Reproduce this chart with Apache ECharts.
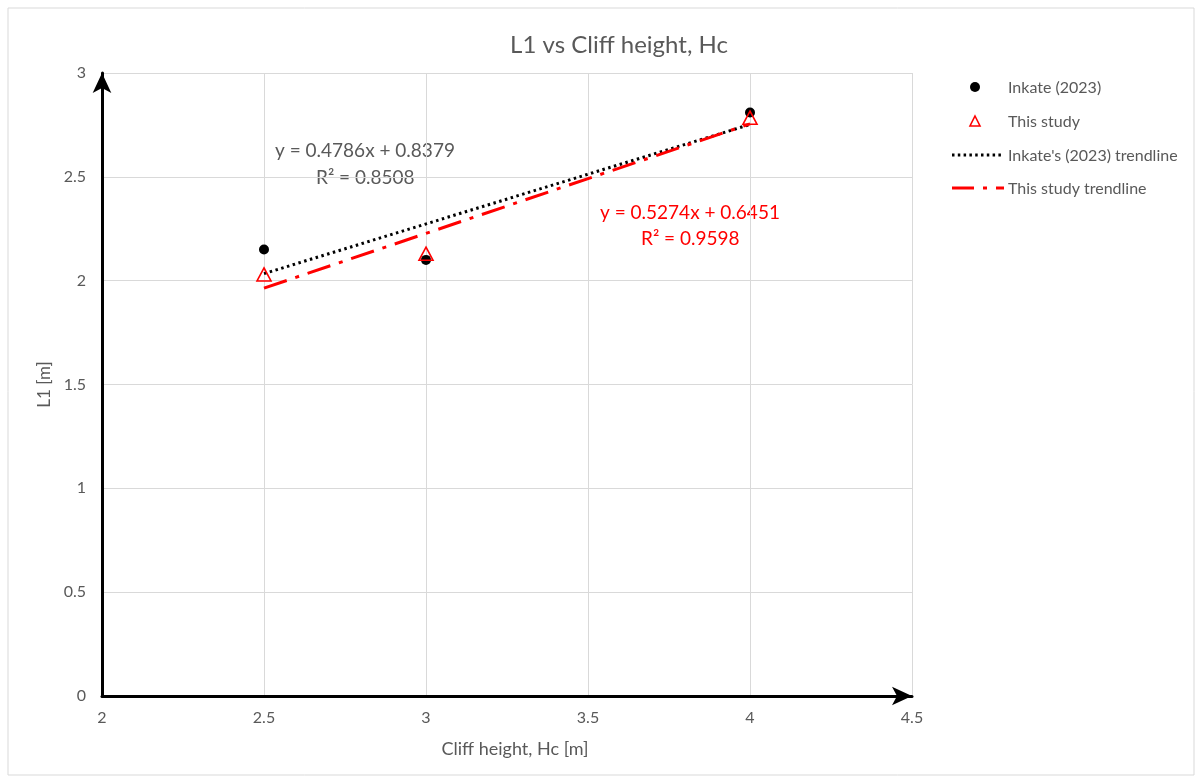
<!DOCTYPE html>
<html><head><meta charset="utf-8">
<script src="https://cdn.jsdelivr.net/npm/echarts@6/dist/echarts.min.js"></script>
<style>html,body{margin:0;padding:0;background:#fff}#c{width:1200px;height:780px}</style>
</head><body><div id="c"></div>
<script>
const xTicks = [2, 2.5, 3, 3.5, 4, 4.5];
const yTicks = [0, 0.5, 1, 1.5, 2, 2.5, 3];
const inkateX = [2.5, 3, 4];
const inkateY = [2.15, 2.10, 2.81];
const studyX = [2.5, 3, 4];
const studyY = [2.03, 2.13, 2.785];
const inkateTrendX = [2.5, 4];
const inkateTrendY = [2.034, 2.752];
const studyTrendX = [2.5, 4];
const studyTrendY = [1.964, 2.755];
const inkateEq = ['y = 0.4786x + 0.8379', 'R² = 0.8508'];
const studyEq = ['y = 0.5274x + 0.6451', 'R² = 0.9598'];
const legendNames = ['Inkate (2023)', 'This study', "Inkate's (2023) trendline", 'This study trendline'];

const FONT = 'Lato, "Open Sans", sans-serif';
const GREY = '#595959';
const zip = (a, b) => a.map((v, i) => [v, b[i]]);
const legendRows = [87, 121, 155, 188];
const legendText = legendNames.map((n, i) => ({
  type: 'text', left: 1008, top: legendRows[i] - 7,
  style: { text: n, fontFamily: FONT, fontSize: 16, fill: GREY }
}));

const chart = echarts.init(document.getElementById('c'));
chart.setOption({
  animation: false,
  backgroundColor: '#fff',
  title: {
    text: 'L1 vs Cliff height, Hc', left: 614, top: 28, textAlign: 'center',
    textStyle: { fontFamily: FONT, fontSize: 24, fontWeight: 'normal', color: GREY }
  },
  grid: { left: 102, right: 288, top: 73, bottom: 84 },
  xAxis: {
    type: 'value', min: xTicks[0], max: xTicks[xTicks.length - 1], interval: 0.5,
    name: 'Cliff height, Hc [m]', nameLocation: 'middle', nameGap: 44,
    nameTextStyle: { fontFamily: FONT, fontSize: 18, color: GREY, padding: [0, 0, 0, 16] },
    axisLine: { show: true, symbol: ['none', 'arrow'], symbolSize: [14, 20], lineStyle: { color: '#000', width: 3 } },
    axisTick: { show: false },
    axisLabel: { fontFamily: FONT, fontSize: 16, color: GREY, margin: 14 },
    splitLine: { show: true, lineStyle: { color: '#d9d9d9', width: 1 } }
  },
  yAxis: {
    type: 'value', min: yTicks[0], max: yTicks[yTicks.length - 1], interval: 0.5,
    name: 'L1 [m]', nameLocation: 'middle', nameGap: 49, nameRotate: 90,
    nameTextStyle: { fontFamily: FONT, fontSize: 17, color: GREY },
    axisLine: { show: true, symbol: ['none', 'arrow'], symbolSize: [14, 20], lineStyle: { color: '#000', width: 3 } },
    axisTick: { show: false },
    axisLabel: { fontFamily: FONT, fontSize: 16, color: GREY, margin: 16 },
    splitLine: { show: true, lineStyle: { color: '#d9d9d9', width: 1 } }
  },
  series: [
    {
      name: legendNames[0], type: 'scatter', data: zip(inkateX, inkateY),
      symbol: 'circle', symbolSize: 10, itemStyle: { color: '#000', opacity: 1 }, z: 3
    },
    {
      name: legendNames[1], type: 'scatter', data: zip(studyX, studyY),
      symbol: 'triangle', symbolSize: [14, 13],
      itemStyle: { color: 'rgba(255,255,255,0)', borderColor: '#ff0000', borderWidth: 1.6, opacity: 1 }, z: 4
    },
    {
      name: legendNames[2], type: 'line', data: zip(inkateTrendX, inkateTrendY),
      symbol: 'none', lineStyle: { color: '#000', width: 3, type: [2.5, 3.5] }, z: 2
    },
    {
      name: legendNames[3], type: 'line', data: zip(studyTrendX, studyTrendY),
      symbol: 'none', lineStyle: { color: '#ff0000', width: 3, type: [24, 9, 4, 9] }, z: 2
    }
  ],
  graphic: [
    { type: 'rect', shape: { x: 8, y: 8, width: 1186, height: 767 }, style: { fill: 'none', stroke: '#d9d9d9', lineWidth: 1 }, silent: true },
    { type: 'text', left: 275, top: 141, style: { text: inkateEq[0], fontFamily: FONT, fontSize: 19, fill: GREY } },
    { type: 'text', left: 316, top: 168, style: { text: inkateEq[1], fontFamily: FONT, fontSize: 19, fill: GREY } },
    { type: 'text', left: 600, top: 203, style: { text: studyEq[0], fontFamily: FONT, fontSize: 19, fill: '#ff0000' } },
    { type: 'text', left: 641, top: 229, style: { text: studyEq[1], fontFamily: FONT, fontSize: 19, fill: '#ff0000' } },
    { type: 'circle', shape: { cx: 975, cy: legendRows[0], r: 5 }, style: { fill: '#000' } },
    { type: 'polygon', shape: { points: [[975, legendRows[1] - 5], [980, legendRows[1] + 5], [970, legendRows[1] + 5]] }, style: { fill: 'none', stroke: '#ff0000', lineWidth: 1.6 } },
    { type: 'line', shape: { x1: 952, y1: legendRows[2], x2: 1004, y2: legendRows[2] }, style: { stroke: '#000', lineWidth: 3, lineDash: [2.5, 3.3] } },
    { type: 'line', shape: { x1: 952, y1: legendRows[3], x2: 1004, y2: legendRows[3] }, style: { stroke: '#ff0000', lineWidth: 3, lineDash: [22, 9, 4, 9] } },
    ...legendText
  ]
});
</script>
</body></html>
